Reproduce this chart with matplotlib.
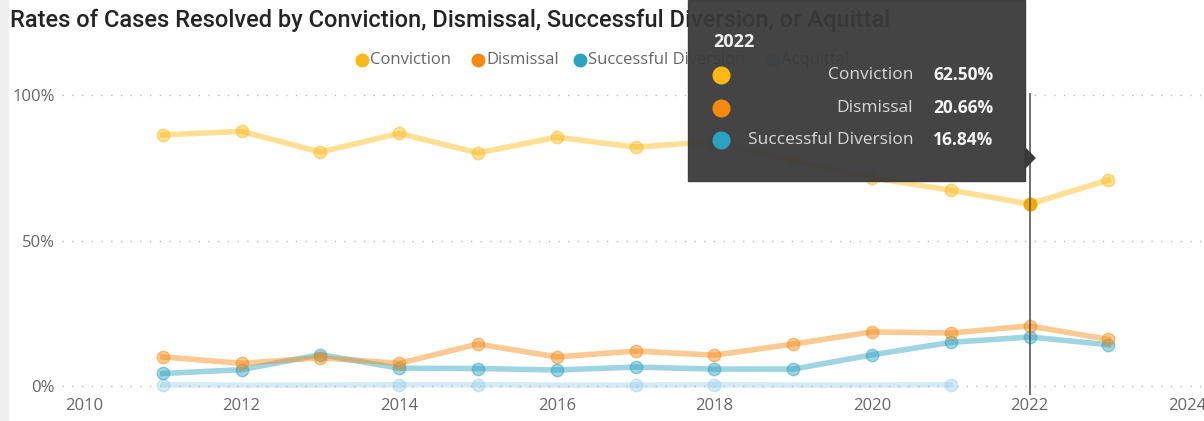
import numpy as np
import matplotlib.pyplot as plt
from matplotlib.patches import Rectangle, Polygon

years = [2011, 2012, 2013, 2014, 2015, 2016, 2017, 2018, 2019, 2020, 2021, 2022, 2023]
conviction = [86.3, 87.5, 80.4, 86.8, 80.1, 85.5, 82.1, 84.0, 77.5, 71.5, 67.3, 62.50, 70.8]
dismissal = [10.0, 7.8, 9.7, 7.8, 14.4, 10.0, 12.0, 10.6, 14.4, 18.6, 18.2, 20.66, 16.0]
diversion = [4.3, 5.6, 10.8, 6.1, 6.0, 5.5, 6.5, 5.8, 5.8, 10.7, 15.0, 16.84, 14.2]
acq_years = [2011, 2012, 2013, 2014, 2015, 2016, 2017, 2018, 2019, 2020, 2021]
acquittal = [0.4, 0.3, 0.3, 0.4, 0.4, 0.3, 0.3, 0.4, 0.3, 0.3, 0.4]
acq_marked = [0, 3, 4, 6, 7, 10]

xticks = [2010, 2012, 2014, 2016, 2018, 2020, 2022, 2024]
yticks = [0, 50, 100]
ytick_labels = ["0%", "50%", "100%"]

hover_year = 2022
tip_names = ["Conviction", "Dismissal", "Successful Diversion"]
tip_values = ["62.50%", "20.66%", "16.84%"]

c_conv = "#FDB813"
c_dism = "#F7890F"
c_div = "#2AA3C2"
c_acq = "#8FCDEB"

W, H = 1204, 421
fig = plt.figure(figsize=(W / 100, H / 100), dpi=100)
fig.patch.set_facecolor("white")

# left gray strip
fig.add_artist(Rectangle((0, 0), 8 / W, 1, transform=fig.transFigure,
                         color="#EFEFEF", zorder=0))

# axes placement in pixels
px_year = 78.8
x0px = 84
ax_left, ax_right = 62, 1204
ax_top, ax_bot = 93, 395
y0px, y100px = 386, 95
ppct = (y0px - y100px) / 100.0

ax = fig.add_axes([ax_left / W, (H - ax_bot) / H, (ax_right - ax_left) / W, (ax_bot - ax_top) / H])
ax.set_xlim(2010 - (x0px - ax_left) / px_year, 2010 + (ax_right - x0px) / px_year)
ax.set_ylim(-(ax_bot - y0px) / ppct, 100 + (y100px - ax_top) / ppct)

for s in ax.spines.values():
    s.set_visible(False)

for yv in yticks:
    ax.axhline(yv, color="#BDBDBD", lw=1, ls=(0, (1, 6)), zorder=1)

ax.set_xticks(xticks)
ax.set_xticklabels([str(x) for x in xticks], fontsize=12, color="#666666", family="Open Sans")
ax.set_yticks(yticks)
ax.set_yticklabels(ytick_labels, fontsize=12, color="#666666", family="Open Sans")
ax.tick_params(length=0, pad=5)
ax.tick_params(axis="x", pad=2)

ax.plot(acq_years, acquittal, color=c_acq, lw=4, alpha=0.4, marker="o", ms=9,
        markevery=acq_marked, zorder=2, solid_capstyle="round")
ax.plot(years, diversion, color=c_div, lw=4, alpha=0.45, marker="o", ms=9, zorder=3)
ax.plot(years, dismissal, color=c_dism, lw=4, alpha=0.45, marker="o", ms=9, zorder=3)
ax.plot(years, conviction, color=c_conv, lw=4, alpha=0.45, marker="o", ms=9, zorder=3)

hi = years.index(hover_year)
ax.plot([hover_year], [conviction[hi]], "o", color="#F5A800", ms=9, zorder=5)
ax.axvline(hover_year, color="#555555", lw=1.2, zorder=6)

# title
fig.text(10 / W, 1 - 20 / H, "Rates of Cases Resolved by Conviction, Dismissal, Successful Diversion, or Aquittal",
         fontsize=17, color="#252423", family="Roboto", weight="medium", va="center", ha="left")

# legend
leg = [("Conviction", c_conv, 362), ("Dismissal", c_dism, 478),
       ("Successful Diversion", c_div, 580), ("Acquittal", c_acq, 773)]
for name, col, lx in leg:
    fig.add_artist(plt.Line2D([lx / W], [1 - 60 / H], marker="o", ms=9, color=col,
                              transform=fig.transFigure))
    fig.text((lx + 8) / W, 1 - 60 / H, name, fontsize=12, color="#666666",
             family="Open Sans", va="center", ha="left")

# tooltip
tx0, tx1, ty0, ty1 = 688, 1025, 0, 181
fig.add_artist(Rectangle((tx0 / W, 1 - ty1 / H), (tx1 - tx0) / W, (ty1 - ty0) / H,
                         transform=fig.transFigure, color="#3A3A3A", alpha=0.95, zorder=20))
fig.add_artist(Polygon([[tx1 / W, 1 - 148 / H], [1035 / W, 1 - 158 / H], [tx1 / W, 1 - 168 / H]],
                       closed=True, transform=fig.transFigure, color="#3A3A3A", zorder=20))
fig.text(713 / W, 1 - 42 / H, str(hover_year), fontsize=13, color="#F0F0F0",
         weight="bold", family="Open Sans", va="center", ha="left", zorder=21)
for i, (name, val, col) in enumerate(zip(tip_names, tip_values, [c_conv, c_dism, c_div])):
    yy = 1 - (75 + i * 32.5) / H
    fig.add_artist(plt.Line2D([721 / W], [yy], marker="o", ms=12, color=col,
                              transform=fig.transFigure, zorder=21))
    fig.text(913 / W, yy, name, fontsize=12.5, color="#D8D8D8", family="Open Sans",
             va="center", ha="right", zorder=21)
    fig.text(933 / W, yy, val, fontsize=12.5, color="#F5F5F5", weight="bold",
             family="Open Sans", va="center", ha="left", zorder=21)

fig.savefig("out.png", dpi=100)
